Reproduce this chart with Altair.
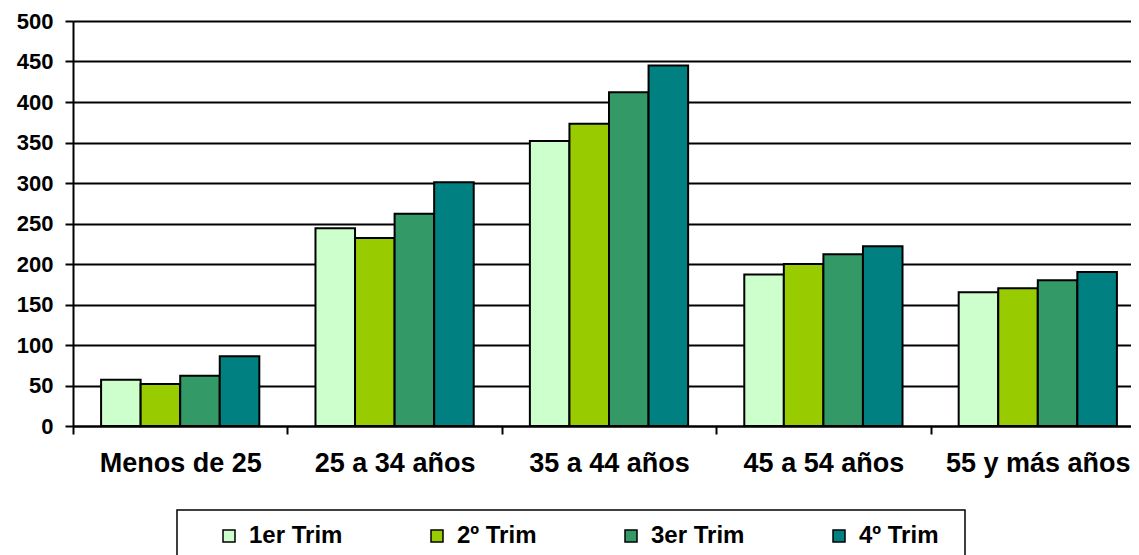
import altair as alt
import pandas as pd

categories = ["Menos de 25", "25 a 34 años", "35 a 44 años", "45 a 54 años", "55 y más años"]
trims = ["1er Trim", "2º Trim", "3er Trim", "4º Trim"]
colors = ["#CCFFCC", "#99CC00", "#339966", "#008080"]

v_1er = [57, 244, 352, 187, 165]
v_2o = [52, 232, 373, 200, 170]
v_3er = [62, 262, 412, 212, 180]
v_4o = [86, 301, 445, 222, 190]

series = [v_1er, v_2o, v_3er, v_4o]
rows = []
for t, vals in zip(trims, series):
    for c, v in zip(categories, vals):
        rows.append({"cat": c, "trim": t, "value": v})
df = pd.DataFrame(rows)

FONT = "Liberation Sans"

bars = alt.Chart(df).mark_bar(stroke="black", strokeWidth=2).encode(
    x=alt.X("cat:N", sort=categories, title=None,
            scale=alt.Scale(range=[0, 1072], paddingInner=0, paddingOuter=0),
            axis=alt.Axis(labelAngle=0, labelFontSize=27, labelFontWeight="bold",
                          labelFont=FONT, labelColor="black", labelPadding=16,
                          labelLimit=0, labelOverlap=False,
                          tickBand="extent", tickSize=8, tickColor="black", tickWidth=2,
                          domainColor="black", domainWidth=2, grid=False)),
    xOffset=alt.XOffset("trim:N", sort=trims,
                        scale=alt.Scale(paddingInner=0, paddingOuter=0.71)),
    y=alt.Y("value:Q", title=None,
            scale=alt.Scale(domain=[0, 500], nice=False),
            axis=alt.Axis(values=list(range(0, 501, 50)), labelFontSize=22,
                          labelFontWeight="bold", labelFont=FONT, labelColor="black",
                          labelPadding=12, tickSize=8, tickColor="black", tickWidth=2,
                          domainColor="black", domainWidth=2,
                          grid=True, gridColor="black", gridWidth=2, gridOpacity=1)),
    color=alt.Color("trim:N", sort=trims,
                    scale=alt.Scale(domain=trims, range=colors),
                    legend=alt.Legend(orient="none", legendX=144, legendY=503,
                                      direction="horizontal", columns=4, title=None,
                                      gridAlign="each",
                                      symbolType="square", symbolSize=144,
                                      symbolStrokeColor="black", symbolStrokeWidth=1.5,
                                      symbolOpacity=1,
                                      labelFontSize=24, labelFontWeight="bold",
                                      labelFont=FONT, labelColor="black",
                                      labelOffset=8, columnPadding=82, padding=0)),
)

frame = alt.Chart(alt.Data(values=[{}])).mark_rect(
    fill=None, stroke="black", strokeWidth=1.5
).encode(
    x=alt.value(104), x2=alt.value(892), y=alt.value(489), y2=alt.value(600)
)

chart = alt.layer(bars, frame).properties(
    width=1058, height=405,
    autosize=alt.AutoSizeParams(type="none"),
    padding={"left": 65, "top": 13, "right": 0, "bottom": 129},
).configure_view(strokeWidth=0).configure(background="white")

chart.save("out.html", embed_options={"renderer": "svg", "actions": False})
